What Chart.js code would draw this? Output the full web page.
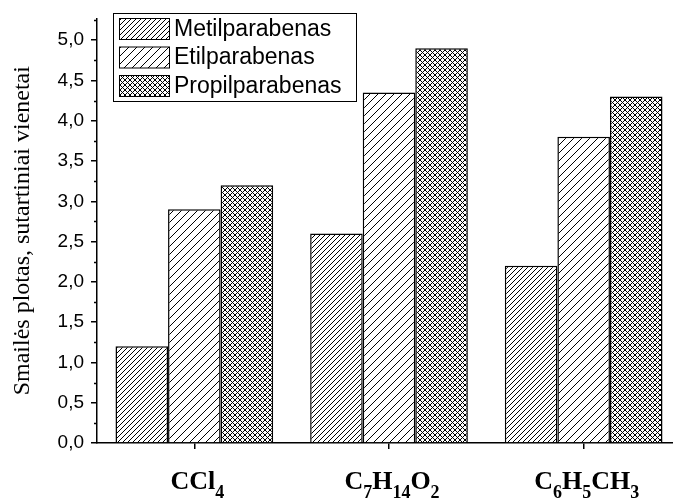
<!DOCTYPE html>
<html>
<head>
<meta charset="utf-8">
<script src="https://cdn.jsdelivr.net/npm/chart.js@4"></script>
<style>
  html, body { margin: 0; padding: 0; background: #fff; overflow: hidden; width: 673px; height: 504px; }
  canvas { display: block; }
</style>
</head>
<body>
<canvas id="chart" width="681" height="504"></canvas>
<script>
// dane
const categories = ['CCl4', 'C7H14O2', 'C6H5CH3'];
// etiketes su indeksais: [tekstas, ar indeksas]
const categoryParts = [
    [['CCl', 0], ['4', 1]],
    [['C', 0], ['7', 1], ['H', 0], ['14', 1], ['O', 0], ['2', 1]],
    [['C', 0], ['6', 1], ['H', 0], ['5', 1], ['CH', 0], ['3', 1]]
];
const seriesNames = ['Metilparabenas', 'Etilparabenas', 'Propilparabenas'];
const metilValues = [1.2, 2.6, 2.2];
const etilValues = [2.9, 4.35, 3.8];
const propilValues = [3.2, 4.9, 4.3];
const yTicks = [0, 0.5, 1, 1.5, 2, 2.5, 3, 3.5, 4, 4.5, 5];
const yMinorTicks = [0.25, 0.75, 1.25, 1.75, 2.25, 2.75, 3.25, 3.75, 4.25, 4.75, 5.25];
const yTitle = 'Smailės plotas, sutartiniai vienetai';

const SANS = 'Liberation Sans, Arial, sans-serif';
const SERIF = 'Liberation Serif, Times New Roman, serif';

function makeHatch(size, cross) {
    const c = document.createElement('canvas');
    c.width = size;
    c.height = size;
    const g = c.getContext('2d');
    g.fillStyle = '#fff';
    g.fillRect(0, 0, size, size);
    g.strokeStyle = '#000';
    g.lineWidth = 1;
    g.beginPath();
    // "/" linijos
    g.moveTo(-1, size + 1); g.lineTo(size + 1, -1);
    g.moveTo(-1, 1); g.lineTo(1, -1);
    g.moveTo(size - 1, size + 1); g.lineTo(size + 1, size - 1);
    if (cross) {
        g.moveTo(-1, -1); g.lineTo(size + 1, size + 1);
        g.moveTo(size - 1, -1); g.lineTo(size + 1, 1);
        g.moveTo(-1, size - 1); g.lineTo(1, size + 1);
    }
    g.stroke();
    return g.createPattern(c, 'repeat');
}

const canvas = document.getElementById('chart');
const patterns = [makeHatch(5, false), makeHatch(8, false), makeHatch(5, true)];

const legendPlugin = {
    id: 'boxLegend',
    afterDraw(chart) {
        const ctx = chart.ctx;
        ctx.save();
        ctx.lineWidth = 1;
        ctx.strokeStyle = '#000';
        ctx.fillStyle = '#fff';
        ctx.fillRect(113.5, 13.5, 243, 88);
        ctx.strokeRect(113.5, 13.5, 243, 88);
        ctx.font = '23px ' + SANS;
        ctx.textBaseline = 'middle';
        ctx.textAlign = 'left';
        for (let i = 0; i < seriesNames.length; i++) {
            const y = 18.5 + i * 28.5;
            ctx.fillStyle = patterns[i];
            ctx.fillRect(119.5, y, 50, 21);
            ctx.strokeRect(119.5, y, 50, 21);
            ctx.fillStyle = '#000';
            ctx.fillText(seriesNames[i], 174, y + 11);
        }
        ctx.restore();
    }
};

const axisExtras = {
    id: 'axisExtras',
    afterDraw(chart) {
        const ctx = chart.ctx;
        const y = chart.scales.y;
        const x = chart.scales.x;
        ctx.save();
        // smulkios y padalos
        ctx.strokeStyle = '#000';
        ctx.lineWidth = 1.5;
        ctx.beginPath();
        yMinorTicks.forEach(function(v) {
            if (v > y.max) return;
            const py = Math.round(y.getPixelForValue(v)) + 0.5;
            ctx.moveTo(y.right - 3, py);
            ctx.lineTo(y.right, py);
        });
        ctx.stroke();
        // x etiketes su indeksais
        ctx.fillStyle = '#000';
        ctx.textBaseline = 'alphabetic';
        ctx.textAlign = 'left';
        const mainFont = 'bold 26px ' + SERIF;
        const subFont = 'bold 18px ' + SERIF;
        for (let i = 0; i < categoryParts.length; i++) {
            const parts = categoryParts[i];
            let w = 0;
            parts.forEach(function(p) {
                ctx.font = p[1] ? subFont : mainFont;
                w += ctx.measureText(p[0]).width;
            });
            let px = x.getPixelForTick(i) - w / 2 + 3;
            parts.forEach(function(p) {
                ctx.font = p[1] ? subFont : mainFont;
                ctx.fillText(p[0], px, p[1] ? 498 : 489);
                px += ctx.measureText(p[0]).width;
            });
        }
        ctx.restore();
    }
};

const datasets = [metilValues, etilValues, propilValues].map(function(vals, i) {
    return {
        label: seriesNames[i],
        data: vals,
        backgroundColor: patterns[i],
        borderColor: '#000',
        borderWidth: 1.5,
        borderSkipped: 'bottom',
        barPercentage: 1,
        categoryPercentage: 0.81
    };
});

new Chart(canvas, {
    type: 'bar',
    data: { labels: categories, datasets: datasets },
    options: {
        responsive: false,
        animation: false,
        devicePixelRatio: 1,
        layout: { padding: { left: 0, top: 13, right: 0, bottom: 0 } },
        plugins: { legend: { display: false }, tooltip: { enabled: false } },
        scales: {
            x: {
                offset: true,
                grid: { offset: false, drawOnChartArea: false, tickLength: 6, color: '#000', lineWidth: 1.5 },
                border: { color: '#000', width: 1.5 },
                ticks: { callback: function() { return ''; } },
                afterFit: function(s) { s.height = 61; }
            },
            y: {
                min: 0,
                max: 5.27,
                afterBuildTicks: function(s) {
                    s.ticks = yTicks.map(function(v) { return { value: v }; });
                },
                grid: { drawOnChartArea: false, tickLength: 6, color: '#000', lineWidth: 1.5 },
                border: { color: '#000', width: 1.5 },
                ticks: {
                    color: '#000',
                    padding: 7,
                    font: { family: SANS, size: 19 },
                    callback: function(v) { return v.toFixed(1).replace('.', ','); }
                },
                title: {
                    display: true,
                    text: yTitle,
                    color: '#000',
                    font: { family: SERIF, size: 24 },
                    padding: { top: 8, bottom: 0 }
                },
                afterFit: function(s) { s.width = 97; }
            }
        }
    },
    plugins: [legendPlugin, axisExtras]
});
</script>
</body>
</html>
